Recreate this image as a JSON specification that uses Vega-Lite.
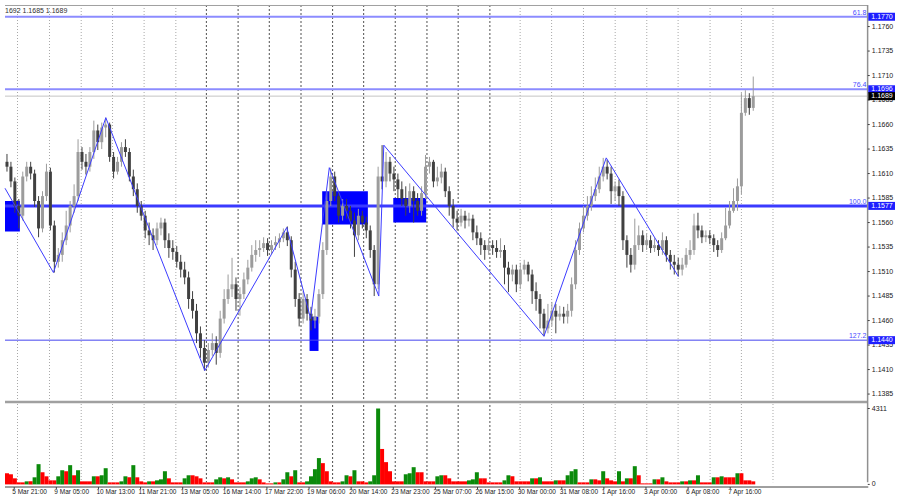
{
"$schema":"https://vega.github.io/schema/vega-lite/v6.json",
"padding":0,
"autosize":{"type":"none"},
"background":"white",
"width":900,"height":500,
"config":{"view":{"stroke":null},"font":"Liberation Sans"},
"datasets":{
"gridA":[{"b":9.5},{"b":33.8},{"b":57.9},{"b":81.7},{"b":105.7},{"b":129.8},{"b":391.4},{"b":415.3},{"b":439.5},{"b":463.6},{"b":487.6},{"b":511.4},{"b":535.7},{"b":559.5},{"b":583.5}],
"gridB":[{"b":153.0},{"b":177.1},{"b":200.8},{"b":224.9},{"b":248.9},{"b":272.5},{"b":296.5},{"b":320.6},{"b":344.3},{"b":368.4}],
"zones":[{"b1":0,"b2":11.3,"p1":1.1551,"p2":1.1582},{"b1":241,"b2":275.7,"p1":1.1558,"p2":1.1592},{"b1":295,"b2":320,"p1":1.1560,"p2":1.1585},{"b1":231.4,"b2":238.2,"p1":1.1429,"p2":1.1464}],
"levels":[{"p":1.1770,"name":"61.8"},{"p":1.1696,"name":"76.4"},{"p":1.1577,"name":"100.0"},{"p":1.1440,"name":"127.2"}],
"tags":[{"p":1.1770,"t":"1.1770","k":"level"},{"p":1.1696,"t":"1.1696","k":"level"},{"p":1.1689,"t":"1.1689","k":"current"},{"p":1.1577,"t":"1.1577","k":"level"},{"p":1.1440,"t":"1.1440","k":"level"}],
"pticks":[{"p":1.1385},{"p":1.1410},{"p":1.1435},{"p":1.1460},{"p":1.1485},{"p":1.1510},{"p":1.1535},{"p":1.1560},{"p":1.1585},{"p":1.1610},{"p":1.1635},{"p":1.1660},{"p":1.1685},{"p":1.1710},{"p":1.1735},{"p":1.1760}],
"volticks":[{"v":4311,"t":"4311"},{"v":0,"t":"0"}],
"tlabels":[{"b":7,"t":"5 Mar 21:00"},{"b":39,"t":"9 Mar 05:00"},{"b":71,"t":"10 Mar 13:00"},{"b":103,"t":"11 Mar 21:00"},{"b":135,"t":"13 Mar 05:00"},{"b":167,"t":"16 Mar 14:00"},{"b":199,"t":"17 Mar 22:00"},{"b":231,"t":"19 Mar 06:00"},{"b":263,"t":"20 Mar 14:00"},{"b":295,"t":"23 Mar 23:00"},{"b":327,"t":"25 Mar 07:00"},{"b":359,"t":"26 Mar 15:00"},{"b":391,"t":"30 Mar 00:00"},{"b":423,"t":"31 Mar 08:00"},{"b":455,"t":"1 Apr 16:00"},{"b":487,"t":"3 Apr 00:00"},{"b":519,"t":"6 Apr 08:00"},{"b":551,"t":"7 Apr 16:00"}],
"zigzag":[{"b":0,"p":1.1595},{"b":36.8,"p":1.1509},{"b":76.6,"p":1.1667},{"b":151.8,"p":1.1409},{"b":214.1,"p":1.1555},{"b":232.2,"p":1.1462},{"b":246.4,"p":1.1616},{"b":284.0,"p":1.1485},{"b":287.8,"p":1.1639},{"b":409.5,"p":1.1444},{"b":456.8,"p":1.1626},{"b":511.6,"p":1.1505}],
"candles":[
{"b":1.5,"o":1.1622,"h":1.1630,"l":1.1612,"c":1.1617,"v":633},
{"b":4.5,"o":1.1617,"h":1.1622,"l":1.1596,"c":1.1602,"v":575},
{"b":7.5,"o":1.1602,"h":1.1606,"l":1.1570,"c":1.1577,"v":345},
{"b":10.5,"o":1.1577,"h":1.1584,"l":1.1554,"c":1.1567,"v":115},
{"b":13.5,"o":1.1567,"h":1.1612,"l":1.1562,"c":1.1607,"v":115},
{"b":16.5,"o":1.1607,"h":1.1622,"l":1.1602,"c":1.1617,"v":173},
{"b":19.5,"o":1.1617,"h":1.1622,"l":1.1604,"c":1.1610,"v":173},
{"b":22.5,"o":1.1610,"h":1.1614,"l":1.1576,"c":1.1582,"v":403},
{"b":25.5,"o":1.1582,"h":1.1587,"l":1.1545,"c":1.1554,"v":1150},
{"b":28.5,"o":1.1554,"h":1.1592,"l":1.1550,"c":1.1587,"v":690},
{"b":31.5,"o":1.1587,"h":1.1620,"l":1.1582,"c":1.1612,"v":460},
{"b":34.5,"o":1.1612,"h":1.1616,"l":1.1552,"c":1.1557,"v":230},
{"b":37.5,"o":1.1557,"h":1.1562,"l":1.1509,"c":1.1520,"v":230},
{"b":40.5,"o":1.1520,"h":1.1534,"l":1.1514,"c":1.1527,"v":460},
{"b":43.5,"o":1.1527,"h":1.1550,"l":1.1520,"c":1.1542,"v":805},
{"b":46.5,"o":1.1542,"h":1.1572,"l":1.1537,"c":1.1557,"v":748},
{"b":49.5,"o":1.1557,"h":1.1582,"l":1.1550,"c":1.1577,"v":1093},
{"b":52.5,"o":1.1577,"h":1.1599,"l":1.1570,"c":1.1587,"v":518},
{"b":55.5,"o":1.1587,"h":1.1645,"l":1.1582,"c":1.1632,"v":805},
{"b":58.5,"o":1.1632,"h":1.1637,"l":1.1614,"c":1.1622,"v":173},
{"b":61.5,"o":1.1622,"h":1.1630,"l":1.1609,"c":1.1617,"v":173},
{"b":64.5,"o":1.1617,"h":1.1637,"l":1.1612,"c":1.1632,"v":173},
{"b":67.5,"o":1.1632,"h":1.1664,"l":1.1625,"c":1.1654,"v":460},
{"b":70.5,"o":1.1654,"h":1.1660,"l":1.1634,"c":1.1642,"v":460},
{"b":73.5,"o":1.1642,"h":1.1662,"l":1.1635,"c":1.1657,"v":518},
{"b":76.5,"o":1.1657,"h":1.1667,"l":1.1647,"c":1.1660,"v":920},
{"b":79.5,"o":1.1660,"h":1.1662,"l":1.1622,"c":1.1627,"v":115},
{"b":82.5,"o":1.1627,"h":1.1632,"l":1.1605,"c":1.1612,"v":115},
{"b":85.5,"o":1.1612,"h":1.1627,"l":1.1609,"c":1.1622,"v":115},
{"b":88.5,"o":1.1622,"h":1.1642,"l":1.1617,"c":1.1637,"v":173},
{"b":91.5,"o":1.1637,"h":1.1645,"l":1.1627,"c":1.1632,"v":460},
{"b":94.5,"o":1.1632,"h":1.1636,"l":1.1602,"c":1.1607,"v":403},
{"b":97.5,"o":1.1607,"h":1.1614,"l":1.1587,"c":1.1594,"v":1093},
{"b":100.5,"o":1.1594,"h":1.1600,"l":1.1570,"c":1.1577,"v":403},
{"b":103.5,"o":1.1577,"h":1.1582,"l":1.1562,"c":1.1567,"v":173},
{"b":106.5,"o":1.1567,"h":1.1572,"l":1.1544,"c":1.1552,"v":115},
{"b":109.5,"o":1.1552,"h":1.1560,"l":1.1537,"c":1.1547,"v":173},
{"b":112.5,"o":1.1547,"h":1.1554,"l":1.1532,"c":1.1542,"v":173},
{"b":115.5,"o":1.1542,"h":1.1560,"l":1.1537,"c":1.1554,"v":230},
{"b":118.5,"o":1.1554,"h":1.1565,"l":1.1547,"c":1.1560,"v":288},
{"b":121.5,"o":1.1560,"h":1.1564,"l":1.1534,"c":1.1542,"v":748},
{"b":124.5,"o":1.1542,"h":1.1549,"l":1.1524,"c":1.1534,"v":345},
{"b":127.5,"o":1.1534,"h":1.1542,"l":1.1522,"c":1.1530,"v":115},
{"b":130.5,"o":1.1530,"h":1.1536,"l":1.1514,"c":1.1520,"v":115},
{"b":133.5,"o":1.1520,"h":1.1527,"l":1.1504,"c":1.1512,"v":115},
{"b":136.5,"o":1.1512,"h":1.1520,"l":1.1497,"c":1.1504,"v":345},
{"b":139.5,"o":1.1504,"h":1.1510,"l":1.1472,"c":1.1482,"v":518},
{"b":142.5,"o":1.1482,"h":1.1490,"l":1.1462,"c":1.1470,"v":518},
{"b":145.5,"o":1.1470,"h":1.1477,"l":1.1437,"c":1.1447,"v":460},
{"b":148.5,"o":1.1447,"h":1.1454,"l":1.1422,"c":1.1432,"v":345},
{"b":151.5,"o":1.1432,"h":1.1440,"l":1.1409,"c":1.1417,"v":115},
{"b":154.5,"o":1.1417,"h":1.1437,"l":1.1412,"c":1.1430,"v":115},
{"b":157.5,"o":1.1430,"h":1.1447,"l":1.1424,"c":1.1437,"v":115},
{"b":160.5,"o":1.1437,"h":1.1444,"l":1.1415,"c":1.1427,"v":288},
{"b":163.5,"o":1.1427,"h":1.1470,"l":1.1422,"c":1.1462,"v":403},
{"b":166.5,"o":1.1462,"h":1.1492,"l":1.1457,"c":1.1482,"v":345},
{"b":169.5,"o":1.1482,"h":1.1507,"l":1.1477,"c":1.1492,"v":403},
{"b":172.5,"o":1.1492,"h":1.1524,"l":1.1484,"c":1.1497,"v":288},
{"b":175.5,"o":1.1497,"h":1.1504,"l":1.1470,"c":1.1482,"v":115},
{"b":178.5,"o":1.1482,"h":1.1494,"l":1.1465,"c":1.1487,"v":115},
{"b":181.5,"o":1.1487,"h":1.1509,"l":1.1482,"c":1.1502,"v":115},
{"b":184.5,"o":1.1502,"h":1.1522,"l":1.1497,"c":1.1514,"v":173},
{"b":187.5,"o":1.1514,"h":1.1537,"l":1.1510,"c":1.1527,"v":345},
{"b":190.5,"o":1.1527,"h":1.1542,"l":1.1520,"c":1.1532,"v":403},
{"b":193.5,"o":1.1532,"h":1.1542,"l":1.1525,"c":1.1534,"v":288},
{"b":196.5,"o":1.1534,"h":1.1545,"l":1.1530,"c":1.1539,"v":115},
{"b":199.5,"o":1.1539,"h":1.1544,"l":1.1526,"c":1.1532,"v":58},
{"b":202.5,"o":1.1532,"h":1.1542,"l":1.1528,"c":1.1537,"v":58},
{"b":205.5,"o":1.1537,"h":1.1546,"l":1.1532,"c":1.1540,"v":115},
{"b":208.5,"o":1.1540,"h":1.1549,"l":1.1534,"c":1.1544,"v":115},
{"b":211.5,"o":1.1544,"h":1.1554,"l":1.1540,"c":1.1550,"v":288},
{"b":214.5,"o":1.1550,"h":1.1556,"l":1.1536,"c":1.1542,"v":690},
{"b":217.5,"o":1.1542,"h":1.1546,"l":1.1504,"c":1.1512,"v":460},
{"b":220.5,"o":1.1512,"h":1.1520,"l":1.1474,"c":1.1482,"v":805},
{"b":223.5,"o":1.1482,"h":1.1488,"l":1.1454,"c":1.1462,"v":115},
{"b":226.5,"o":1.1462,"h":1.1490,"l":1.1457,"c":1.1482,"v":115},
{"b":229.5,"o":1.1482,"h":1.1487,"l":1.1460,"c":1.1467,"v":173},
{"b":232.5,"o":1.1467,"h":1.1474,"l":1.1450,"c":1.1460,"v":460},
{"b":235.5,"o":1.1460,"h":1.1472,"l":1.1452,"c":1.1464,"v":863},
{"b":238.5,"o":1.1464,"h":1.1492,"l":1.1457,"c":1.1487,"v":1495},
{"b":241.5,"o":1.1487,"h":1.1540,"l":1.1482,"c":1.1532,"v":1208},
{"b":244.5,"o":1.1532,"h":1.1592,"l":1.1527,"c":1.1582,"v":748},
{"b":247.5,"o":1.1582,"h":1.1616,"l":1.1577,"c":1.1607,"v":173},
{"b":250.5,"o":1.1607,"h":1.1612,"l":1.1582,"c":1.1587,"v":115},
{"b":253.5,"o":1.1587,"h":1.1592,"l":1.1560,"c":1.1567,"v":115},
{"b":256.5,"o":1.1567,"h":1.1584,"l":1.1562,"c":1.1577,"v":173},
{"b":259.5,"o":1.1577,"h":1.1584,"l":1.1564,"c":1.1572,"v":518},
{"b":262.5,"o":1.1572,"h":1.1577,"l":1.1554,"c":1.1562,"v":460},
{"b":265.5,"o":1.1562,"h":1.1570,"l":1.1525,"c":1.1547,"v":805},
{"b":268.5,"o":1.1547,"h":1.1574,"l":1.1542,"c":1.1567,"v":173},
{"b":271.5,"o":1.1567,"h":1.1572,"l":1.1554,"c":1.1560,"v":173},
{"b":274.5,"o":1.1560,"h":1.1566,"l":1.1544,"c":1.1552,"v":115},
{"b":277.5,"o":1.1552,"h":1.1557,"l":1.1524,"c":1.1532,"v":173},
{"b":280.5,"o":1.1532,"h":1.1537,"l":1.1485,"c":1.1497,"v":518},
{"b":283.5,"o":1.1497,"h":1.1617,"l":1.1492,"c":1.1607,"v":4311},
{"b":286.5,"o":1.1607,"h":1.1639,"l":1.1594,"c":1.1602,"v":2013},
{"b":289.5,"o":1.1602,"h":1.1632,"l":1.1596,"c":1.1622,"v":1265},
{"b":292.5,"o":1.1622,"h":1.1627,"l":1.1602,"c":1.1610,"v":748},
{"b":295.5,"o":1.1610,"h":1.1617,"l":1.1592,"c":1.1604,"v":173},
{"b":298.5,"o":1.1604,"h":1.1610,"l":1.1584,"c":1.1594,"v":173},
{"b":301.5,"o":1.1594,"h":1.1602,"l":1.1577,"c":1.1584,"v":173},
{"b":304.5,"o":1.1584,"h":1.1597,"l":1.1567,"c":1.1577,"v":575},
{"b":307.5,"o":1.1577,"h":1.1600,"l":1.1570,"c":1.1592,"v":633},
{"b":310.5,"o":1.1592,"h":1.1597,"l":1.1560,"c":1.1582,"v":978},
{"b":313.5,"o":1.1582,"h":1.1590,"l":1.1567,"c":1.1572,"v":690},
{"b":316.5,"o":1.1572,"h":1.1597,"l":1.1567,"c":1.1590,"v":690},
{"b":319.5,"o":1.1590,"h":1.1629,"l":1.1584,"c":1.1617,"v":173},
{"b":322.5,"o":1.1617,"h":1.1627,"l":1.1610,"c":1.1622,"v":173},
{"b":325.5,"o":1.1622,"h":1.1624,"l":1.1596,"c":1.1602,"v":173},
{"b":328.5,"o":1.1602,"h":1.1617,"l":1.1597,"c":1.1606,"v":460},
{"b":331.5,"o":1.1606,"h":1.1620,"l":1.1600,"c":1.1612,"v":518},
{"b":334.5,"o":1.1612,"h":1.1616,"l":1.1586,"c":1.1592,"v":518},
{"b":337.5,"o":1.1592,"h":1.1597,"l":1.1567,"c":1.1577,"v":345},
{"b":340.5,"o":1.1577,"h":1.1584,"l":1.1555,"c":1.1564,"v":173},
{"b":343.5,"o":1.1564,"h":1.1572,"l":1.1552,"c":1.1560,"v":173},
{"b":346.5,"o":1.1560,"h":1.1574,"l":1.1556,"c":1.1567,"v":173},
{"b":349.5,"o":1.1567,"h":1.1572,"l":1.1554,"c":1.1562,"v":173},
{"b":352.5,"o":1.1562,"h":1.1570,"l":1.1556,"c":1.1564,"v":230},
{"b":355.5,"o":1.1564,"h":1.1568,"l":1.1542,"c":1.1550,"v":288},
{"b":358.5,"o":1.1550,"h":1.1557,"l":1.1537,"c":1.1544,"v":690},
{"b":361.5,"o":1.1544,"h":1.1550,"l":1.1527,"c":1.1537,"v":345},
{"b":364.5,"o":1.1537,"h":1.1542,"l":1.1522,"c":1.1532,"v":345},
{"b":367.5,"o":1.1532,"h":1.1544,"l":1.1527,"c":1.1537,"v":115},
{"b":370.5,"o":1.1537,"h":1.1542,"l":1.1527,"c":1.1534,"v":115},
{"b":373.5,"o":1.1534,"h":1.1542,"l":1.1524,"c":1.1530,"v":115},
{"b":376.5,"o":1.1530,"h":1.1544,"l":1.1524,"c":1.1532,"v":115},
{"b":379.5,"o":1.1532,"h":1.1537,"l":1.1497,"c":1.1514,"v":230},
{"b":382.5,"o":1.1514,"h":1.1520,"l":1.1489,"c":1.1507,"v":518},
{"b":385.5,"o":1.1507,"h":1.1517,"l":1.1500,"c":1.1512,"v":460},
{"b":388.5,"o":1.1512,"h":1.1517,"l":1.1489,"c":1.1497,"v":173},
{"b":391.5,"o":1.1497,"h":1.1519,"l":1.1492,"c":1.1512,"v":173},
{"b":394.5,"o":1.1512,"h":1.1522,"l":1.1507,"c":1.1517,"v":173},
{"b":397.5,"o":1.1517,"h":1.1520,"l":1.1500,"c":1.1507,"v":173},
{"b":400.5,"o":1.1507,"h":1.1512,"l":1.1477,"c":1.1490,"v":345},
{"b":403.5,"o":1.1490,"h":1.1499,"l":1.1470,"c":1.1482,"v":345},
{"b":406.5,"o":1.1482,"h":1.1487,"l":1.1452,"c":1.1467,"v":403},
{"b":409.5,"o":1.1467,"h":1.1472,"l":1.1444,"c":1.1452,"v":173},
{"b":412.5,"o":1.1452,"h":1.1477,"l":1.1447,"c":1.1460,"v":173},
{"b":415.5,"o":1.1460,"h":1.1479,"l":1.1454,"c":1.1470,"v":173},
{"b":418.5,"o":1.1470,"h":1.1477,"l":1.1447,"c":1.1464,"v":230},
{"b":421.5,"o":1.1464,"h":1.1475,"l":1.1460,"c":1.1467,"v":230},
{"b":424.5,"o":1.1467,"h":1.1474,"l":1.1457,"c":1.1464,"v":230},
{"b":427.5,"o":1.1464,"h":1.1477,"l":1.1457,"c":1.1470,"v":518},
{"b":430.5,"o":1.1470,"h":1.1504,"l":1.1464,"c":1.1497,"v":748},
{"b":433.5,"o":1.1497,"h":1.1542,"l":1.1492,"c":1.1532,"v":863},
{"b":436.5,"o":1.1532,"h":1.1560,"l":1.1527,"c":1.1554,"v":115},
{"b":439.5,"o":1.1554,"h":1.1577,"l":1.1550,"c":1.1567,"v":115},
{"b":442.5,"o":1.1567,"h":1.1587,"l":1.1562,"c":1.1577,"v":115},
{"b":445.5,"o":1.1577,"h":1.1597,"l":1.1572,"c":1.1587,"v":288},
{"b":448.5,"o":1.1587,"h":1.1606,"l":1.1582,"c":1.1594,"v":288},
{"b":451.5,"o":1.1594,"h":1.1617,"l":1.1590,"c":1.1607,"v":230},
{"b":454.5,"o":1.1607,"h":1.1626,"l":1.1602,"c":1.1617,"v":748},
{"b":457.5,"o":1.1617,"h":1.1624,"l":1.1604,"c":1.1610,"v":345},
{"b":460.5,"o":1.1610,"h":1.1617,"l":1.1579,"c":1.1592,"v":230},
{"b":463.5,"o":1.1592,"h":1.1602,"l":1.1582,"c":1.1597,"v":173},
{"b":466.5,"o":1.1597,"h":1.1604,"l":1.1577,"c":1.1587,"v":748},
{"b":469.5,"o":1.1587,"h":1.1592,"l":1.1532,"c":1.1542,"v":173},
{"b":472.5,"o":1.1542,"h":1.1547,"l":1.1514,"c":1.1527,"v":345},
{"b":475.5,"o":1.1527,"h":1.1534,"l":1.1509,"c":1.1517,"v":345},
{"b":478.5,"o":1.1517,"h":1.1564,"l":1.1512,"c":1.1537,"v":1035},
{"b":481.5,"o":1.1537,"h":1.1557,"l":1.1532,"c":1.1547,"v":518},
{"b":484.5,"o":1.1547,"h":1.1552,"l":1.1530,"c":1.1537,"v":58},
{"b":487.5,"o":1.1537,"h":1.1549,"l":1.1532,"c":1.1542,"v":58},
{"b":490.5,"o":1.1542,"h":1.1547,"l":1.1529,"c":1.1534,"v":58},
{"b":493.5,"o":1.1534,"h":1.1544,"l":1.1530,"c":1.1537,"v":288},
{"b":496.5,"o":1.1537,"h":1.1542,"l":1.1526,"c":1.1532,"v":288},
{"b":499.5,"o":1.1532,"h":1.1550,"l":1.1527,"c":1.1542,"v":403},
{"b":502.5,"o":1.1542,"h":1.1546,"l":1.1520,"c":1.1527,"v":173},
{"b":505.5,"o":1.1527,"h":1.1532,"l":1.1512,"c":1.1520,"v":115},
{"b":508.5,"o":1.1520,"h":1.1527,"l":1.1507,"c":1.1517,"v":115},
{"b":511.5,"o":1.1517,"h":1.1524,"l":1.1505,"c":1.1512,"v":115},
{"b":514.5,"o":1.1512,"h":1.1524,"l":1.1506,"c":1.1517,"v":173},
{"b":517.5,"o":1.1517,"h":1.1534,"l":1.1514,"c":1.1527,"v":173},
{"b":520.5,"o":1.1527,"h":1.1542,"l":1.1522,"c":1.1532,"v":230},
{"b":523.5,"o":1.1532,"h":1.1569,"l":1.1527,"c":1.1557,"v":230},
{"b":526.5,"o":1.1557,"h":1.1570,"l":1.1544,"c":1.1552,"v":518},
{"b":529.5,"o":1.1552,"h":1.1557,"l":1.1539,"c":1.1545,"v":115},
{"b":532.5,"o":1.1545,"h":1.1552,"l":1.1540,"c":1.1547,"v":115},
{"b":535.5,"o":1.1547,"h":1.1552,"l":1.1538,"c":1.1544,"v":115},
{"b":538.5,"o":1.1544,"h":1.1548,"l":1.1530,"c":1.1537,"v":403},
{"b":541.5,"o":1.1537,"h":1.1542,"l":1.1525,"c":1.1532,"v":403},
{"b":544.5,"o":1.1532,"h":1.1550,"l":1.1529,"c":1.1544,"v":460},
{"b":547.5,"o":1.1544,"h":1.1575,"l":1.1542,"c":1.1557,"v":403},
{"b":550.5,"o":1.1557,"h":1.1582,"l":1.1554,"c":1.1572,"v":403},
{"b":553.5,"o":1.1572,"h":1.1595,"l":1.1570,"c":1.1582,"v":403},
{"b":556.5,"o":1.1582,"h":1.1605,"l":1.1572,"c":1.1597,"v":633},
{"b":559.5,"o":1.1597,"h":1.1692,"l":1.1589,"c":1.1672,"v":633},
{"b":562.5,"o":1.1672,"h":1.1695,"l":1.1669,"c":1.1687,"v":230},
{"b":565.5,"o":1.1687,"h":1.1692,"l":1.1670,"c":1.1677,"v":230},
{"b":568.5,"o":1.1677,"h":1.1709,"l":1.1674,"c":1.1689,"v":173}
]},
"resolve":{"scale":{"y":"independent"}},
"layer":[
{"layer":[
{"data":{"name":"gridA"},"mark":{"type":"rule","color":"#a8a8a8","strokeDash":[1,2],"strokeWidth":1},
 "encoding":{"x":{"field":"b","type":"quantitative","scale":{"domain":[0,676.2],"nice":false,"zero":false},"axis":null},
 "y":{"datum":1.1782,"type":"quantitative","scale":{"domain":[1.1282,1.1782],"nice":false,"zero":false},"axis":null},"y2":{"datum":1.1295}}},
{"data":{"name":"gridB"},"mark":{"type":"rule","color":"#505050","strokeDash":[2,2],"strokeWidth":1},
 "encoding":{"x":{"field":"b","type":"quantitative","scale":{"domain":[0,676.2],"nice":false,"zero":false},"axis":null},
 "y":{"datum":1.1782,"type":"quantitative","scale":{"domain":[1.1282,1.1782],"nice":false,"zero":false},"axis":null},"y2":{"datum":1.1295}}},
{"data":{"values":[{}]},"mark":{"type":"rule","color":"#a0a0a0","strokeWidth":1},
 "encoding":{"x":{"datum":0,"type":"quantitative","scale":{"domain":[0,676.2],"nice":false,"zero":false},"axis":null},"x2":{"datum":655.2},
 "y":{"datum":1.17815,"type":"quantitative","scale":{"domain":[1.1282,1.1782],"nice":false,"zero":false},"axis":null}}},
{"data":{"values":[{}]},"mark":{"type":"rule","color":"#a0a0a0","strokeWidth":2.5},
 "encoding":{"x":{"datum":0,"type":"quantitative","scale":{"domain":[0,676.2],"nice":false,"zero":false},"axis":null},"x2":{"datum":655.2},
 "y":{"datum":1.1377,"type":"quantitative","scale":{"domain":[1.1282,1.1782],"nice":false,"zero":false},"axis":null}}},
{"data":{"name":"zones"},"mark":{"type":"rect","color":"#0000ff","opacity":1},
 "encoding":{"x":{"field":"b1","type":"quantitative","scale":{"domain":[0,676.2],"nice":false,"zero":false},"axis":null},"x2":{"field":"b2"},
 "y":{"field":"p1","type":"quantitative","scale":{"domain":[1.1282,1.1782],"nice":false,"zero":false},"axis":null},"y2":{"field":"p2"}}},
{"data":{"name":"levels"},"mark":{"type":"rule"},
 "encoding":{"x":{"datum":0,"type":"quantitative","scale":{"domain":[0,676.2],"nice":false,"zero":false},"axis":null},"x2":{"datum":655.2},
 "y":{"field":"p","type":"quantitative","scale":{"domain":[1.1282,1.1782],"nice":false,"zero":false},"axis":null},
 "color":{"condition":[{"test":"datum.name=='61.8'||datum.name=='76.4'","value":"#8c8cff"},{"test":"datum.name=='100.0'","value":"#3a3aff"}],"value":"#4545ee"},
 "strokeWidth":{"condition":[{"test":"datum.name=='61.8'||datum.name=='76.4'","value":2},{"test":"datum.name=='100.0'","value":3}],"value":1}}},
{"data":{"values":[{"p":1.1689}]},"mark":{"type":"rule","color":"#c4c4c4","strokeWidth":1},
 "encoding":{"x":{"datum":0,"type":"quantitative","scale":{"domain":[0,676.2],"nice":false,"zero":false},"axis":null},"x2":{"datum":655.2},
 "y":{"field":"p","type":"quantitative","scale":{"domain":[1.1282,1.1782],"nice":false,"zero":false},"axis":null}}},
{"data":{"name":"candles"},"mark":{"type":"rule","strokeWidth":1},
 "encoding":{"x":{"field":"b","type":"quantitative","scale":{"domain":[0,676.2],"nice":false,"zero":false},"axis":null},
 "y":{"field":"l","type":"quantitative","scale":{"domain":[1.1282,1.1782],"nice":false,"zero":false},"axis":null},"y2":{"field":"h"},
 "color":{"condition":{"test":"datum.c >= datum.o","value":"#9c9c9c"},"value":"#404040"}}},
{"data":{"name":"candles"},"mark":{"type":"bar","size":3},
 "encoding":{"x":{"field":"b","type":"quantitative","scale":{"domain":[0,676.2],"nice":false,"zero":false},"axis":null},
 "y":{"field":"o","type":"quantitative","scale":{"domain":[1.1282,1.1782],"nice":false,"zero":false},"axis":null},"y2":{"field":"c"},
 "color":{"condition":{"test":"datum.c >= datum.o","value":"#9c9c9c"},"value":"#404040"}}},
{"data":{"name":"zigzag"},"mark":{"type":"line","color":"#3c3cff","strokeWidth":1},
 "encoding":{"x":{"field":"b","type":"quantitative","scale":{"domain":[0,676.2],"nice":false,"zero":false},"axis":null},
 "y":{"field":"p","type":"quantitative","scale":{"domain":[1.1282,1.1782],"nice":false,"zero":false},"axis":null}}},
{"data":{"values":[{}]},"mark":{"type":"rule","color":"#909090","strokeWidth":1.5},
 "encoding":{"x":{"datum":655.4,"type":"quantitative","scale":{"domain":[0,676.2],"nice":false,"zero":false},"axis":null},
 "y":{"datum":1.1782,"type":"quantitative","scale":{"domain":[1.1282,1.1782],"nice":false,"zero":false},"axis":null},"y2":{"datum":1.1295}}},
{"data":{"name":"pticks"},"mark":{"type":"rule","color":"#404040","strokeWidth":1},
 "encoding":{"x":{"datum":655.5,"type":"quantitative","scale":{"domain":[0,676.2],"nice":false,"zero":false},"axis":null},"x2":{"datum":657.0},
 "y":{"field":"p","type":"quantitative","scale":{"domain":[1.1282,1.1782],"nice":false,"zero":false},"axis":null}}},
{"data":{"name":"pticks"},"mark":{"type":"text","align":"left","baseline":"middle","fontSize":7,"color":"#202020","font":"Liberation Sans"},
 "encoding":{"x":{"datum":658.6,"type":"quantitative","scale":{"domain":[0,676.2],"nice":false,"zero":false},"axis":null},
 "y":{"field":"p","type":"quantitative","scale":{"domain":[1.1282,1.1782],"nice":false,"zero":false},"axis":null},
 "text":{"field":"p","type":"quantitative","format":".4f"}}},
{"data":{"name":"levels"},"mark":{"type":"text","align":"right","baseline":"bottom","dy":-1,"fontSize":7,"color":"#4a4aff","font":"Liberation Sans"},
 "encoding":{"x":{"datum":654.5,"type":"quantitative","scale":{"domain":[0,676.2],"nice":false,"zero":false},"axis":null},
 "y":{"field":"p","type":"quantitative","scale":{"domain":[1.1282,1.1782],"nice":false,"zero":false},"axis":null},
 "text":{"field":"name"}}},
{"data":{"name":"tags"},"mark":{"type":"bar","size":8,"orient":"horizontal"},
 "encoding":{"x":{"datum":655.9,"type":"quantitative","scale":{"domain":[0,676.2],"nice":false,"zero":false},"axis":null},"x2":{"datum":676.2},
 "y":{"field":"p","type":"quantitative","scale":{"domain":[1.1282,1.1782],"nice":false,"zero":false},"axis":null},
 "color":{"condition":{"test":"datum.k=='current'","value":"#000000"},"value":"#1e1eff"}}},
{"data":{"name":"tags"},"mark":{"type":"text","align":"left","baseline":"middle","fontSize":7,"color":"#ffffff","font":"Liberation Sans"},
 "encoding":{"x":{"datum":658.2,"type":"quantitative","scale":{"domain":[0,676.2],"nice":false,"zero":false},"axis":null},
 "y":{"field":"p","type":"quantitative","scale":{"domain":[1.1282,1.1782],"nice":false,"zero":false},"axis":null},
 "text":{"field":"t"}}},
{"data":{"values":[{"t":"1692 1.1685 1.1689"}]},"mark":{"type":"text","align":"left","baseline":"middle","fontSize":7,"color":"#303030","font":"Liberation Sans"},
 "encoding":{"x":{"datum":0,"type":"quantitative","scale":{"domain":[0,676.2],"nice":false,"zero":false},"axis":null},
 "y":{"datum":1.1776,"type":"quantitative","scale":{"domain":[1.1282,1.1782],"nice":false,"zero":false},"axis":null},
 "text":{"field":"t"}}}
]},
{"layer":[
{"data":{"name":"candles"},"transform":[{"window":[{"op":"lag","field":"v","as":"pv"}],"sort":[{"field":"b"}]}],
 "mark":{"type":"bar","size":4},
 "encoding":{"x":{"field":"b","type":"quantitative","scale":{"domain":[0,676.2],"nice":false,"zero":false},"axis":null},
 "y":{"field":"v","type":"quantitative","scale":{"domain":[-886,27514],"nice":false,"zero":false},"axis":null},
 "y2":{"datum":0},
 "color":{"condition":{"test":"datum.pv != null && datum.v > datum.pv","value":"#0b8a0b"},"value":"#ff0000"}}},
{"data":{"values":[{}]},"mark":{"type":"rule","color":"#404040","strokeWidth":1},
 "encoding":{"x":{"datum":0,"type":"quantitative","scale":{"domain":[0,676.2],"nice":false,"zero":false},"axis":null},"x2":{"datum":655.9},
 "y":{"datum":-148,"type":"quantitative","scale":{"domain":[-886,27514],"nice":false,"zero":false},"axis":null}}},
{"data":{"name":"tlabels"},"mark":{"type":"rule","color":"#404040","strokeWidth":1},
 "encoding":{"x":{"field":"b","type":"quantitative","scale":{"domain":[0,676.2],"nice":false,"zero":false},"axis":null},
 "y":{"datum":-148,"type":"quantitative","scale":{"domain":[-886,27514],"nice":false,"zero":false},"axis":null},"y2":{"datum":-262}}},
{"data":{"name":"tlabels"},"mark":{"type":"text","align":"left","baseline":"middle","dx":-2,"fontSize":6.5,"color":"#202020","font":"Liberation Sans"},
 "encoding":{"x":{"field":"b","type":"quantitative","scale":{"domain":[0,676.2],"nice":false,"zero":false},"axis":null},
 "y":{"datum":-432,"type":"quantitative","scale":{"domain":[-886,27514],"nice":false,"zero":false},"axis":null},
 "text":{"field":"t"}}},
{"data":{"name":"volticks"},"mark":{"type":"rule","color":"#404040","strokeWidth":1},
 "encoding":{"x":{"datum":655.5,"type":"quantitative","scale":{"domain":[0,676.2],"nice":false,"zero":false},"axis":null},"x2":{"datum":657.0},
 "y":{"field":"v","type":"quantitative","scale":{"domain":[-886,27514],"nice":false,"zero":false},"axis":null}}},
{"data":{"name":"volticks"},"mark":{"type":"text","align":"left","baseline":"middle","fontSize":7,"color":"#202020","font":"Liberation Sans"},
 "encoding":{"x":{"datum":658.6,"type":"quantitative","scale":{"domain":[0,676.2],"nice":false,"zero":false},"axis":null},
 "y":{"field":"v","type":"quantitative","scale":{"domain":[-886,27514],"nice":false,"zero":false},"axis":null},
 "text":{"field":"t"}}}
]}
]
}
